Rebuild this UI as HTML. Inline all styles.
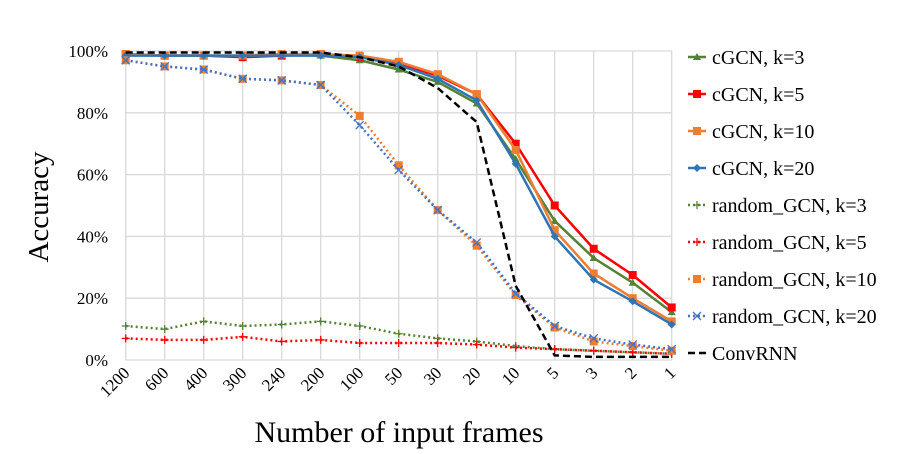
<!DOCTYPE html>
<html><head><meta charset="utf-8"><style>
body{margin:0;background:#fff}
svg{display:block;font-family:"Liberation Serif",serif}
</style></head><body>
<svg id="c" width="904" height="454"></svg>
<script>
const categories=["1200","600","400","300","240","200","100","50","30","20","10","5","3","2","1"];
const yTicks=[0,20,40,60,80,100];
const cgcn3=[99,98.5,98.5,98.5,99,98.5,97,94,90,83,65,45,33,25,15.5];
const cgcn5=[99,98.5,98.5,98,98.5,99,98,96,92,86,70,50,36,27.5,17];
const cgcn10=[99,98.5,98.5,98.5,99,99,98.5,96.5,92.5,86,68,42,28,20,12.5];
const cgcn20=[98.5,98.5,98.5,98.5,98.5,98.5,98,95.5,91,84,63.5,40,26,19,11.5];
const rnd3=[11,10,12.5,11,11.5,12.5,11,8.5,7,6,4.5,3.5,3,2.5,2];
const rnd5=[7,6.5,6.5,7.5,6,6.5,5.5,5.5,5.5,5,4,3.5,3,2.5,2];
const rnd10=[97,95,94,91,90.5,89,79,63,48.5,37,21,10.5,6,4.5,3];
const rnd20=[97,95,94,91,90.5,89,76,61.5,48.5,38,21.5,11,7,5,3.5];
const convrnn=[99.5,99.5,99.5,99.5,99.5,99.5,98,95,88,77,24,1.5,1,1,1];

const NS="http://www.w3.org/2000/svg",svg=document.getElementById('c');
const x0=125.7,step=39,yb=360,yt=51;
const X=i=>x0+i*step, Y=v=>yb-(v/100)*(yb-yt);
function mk(t,a,p){const e=document.createElementNS(NS,t);for(const k in a)e.setAttribute(k,a[k]);(p||svg).appendChild(e);return e;}
const grid=mk('g',{});


yTicks.forEach(v=>{mk('line',{x1:x0,x2:X(14),y1:Y(v),y2:Y(v),stroke:'#d9d9d9','stroke-width':1.3},grid);
 const t=mk('text',{x:108,y:Y(v)+6,'text-anchor':'end','font-size':17,fill:'#000'});t.textContent=v+'%';
 
 });
categories.forEach((c,i)=>{mk('line',{x1:X(i),x2:X(i),y1:yt,y2:yb,stroke:'#d9d9d9','stroke-width':1.3},grid);
 const t=mk('text',{x:X(i)+5,y:yb+14,'text-anchor':'end','font-size':17,transform:`rotate(-45 ${X(i)+5} ${yb+14})`});t.textContent=c;
 
 });
const series=[
 {n:'cGCN, k=3',d:cgcn3,c:'#548235',w:2.5,dash:'',m:'tri'},
 {n:'cGCN, k=5',d:cgcn5,c:'#ff0000',w:2.5,dash:'',m:'sq'},
 {n:'cGCN, k=10',d:cgcn10,c:'#ed7d31',w:2.5,dash:'',m:'sq'},
 {n:'cGCN, k=20',d:cgcn20,c:'#2e75b6',w:2.5,dash:'',m:'dia'},
 {n:'random_GCN, k=3',d:rnd3,c:'#548235',w:2.5,dash:'2 3',m:'plus'},
 {n:'random_GCN, k=5',d:rnd5,c:'#ff0000',w:2.5,dash:'2 3',m:'plus'},
 {n:'random_GCN, k=10',d:rnd10,c:'#ed7d31',w:2.5,dash:'2 3',m:'sq'},
 {n:'random_GCN, k=20',d:rnd20,c:'#4472c4',w:2.5,dash:'2 3',m:'x'},
 {n:'ConvRNN',d:convrnn,c:'#000',w:2.5,dash:'7 4',m:''}];
function marker(g,m,x,y,c){
 if(m==='tri')mk('path',{d:`M${x-4},${y+3}L${x+4},${y+3}L${x},${y-4}Z`,fill:c},g);
 else if(m==='sq')mk('rect',{x:x-4,y:y-4,width:8,height:8,fill:c},g);
 else if(m==='dia')mk('path',{d:`M${x-4},${y}L${x},${y-4}L${x+4},${y}L${x},${y+4}Z`,fill:c},g);
 else if(m==='plus')mk('path',{d:`M${x-4},${y}H${x+4}M${x},${y-4}V${y+4}`,stroke:c,'stroke-width':1.3},g);
 else if(m==='x')mk('path',{d:`M${x-4},${y-4}L${x+4},${y+4}M${x-4},${y+4}L${x+4},${y-4}`,stroke:c,'stroke-width':1.3},g);
}
series.forEach((s,k)=>{
 const g=mk('g',{});
 
 
 mk('polyline',{points:s.d.map((v,i)=>X(i)+','+Y(v)).join(' '),fill:'none',stroke:s.c,'stroke-width':s.w,'stroke-dasharray':s.dash},g);
 s.d.forEach((v,i)=>marker(g,s.m,X(i),Y(v),s.c));
 const ly=57+k*37;
 const lg=mk('g',{});
 
 
 mk('line',{x1:688,x2:706,y1:ly,y2:ly,stroke:s.c,'stroke-width':2.5,'stroke-dasharray':s.dash},lg);
 marker(lg,s.m,697,ly,s.c);
 const t=mk('text',{x:712,y:ly+7,'font-size':20},lg);t.textContent=s.n;
});
const yt2=mk('text',{x:48,y:207,'text-anchor':'middle','font-size':29,transform:'rotate(-90 48 207)'});yt2.textContent='Accuracy';


const xt=mk('text',{x:399,y:442,'text-anchor':'middle','font-size':30});xt.textContent='Number of input frames';


</script>
</body></html>
